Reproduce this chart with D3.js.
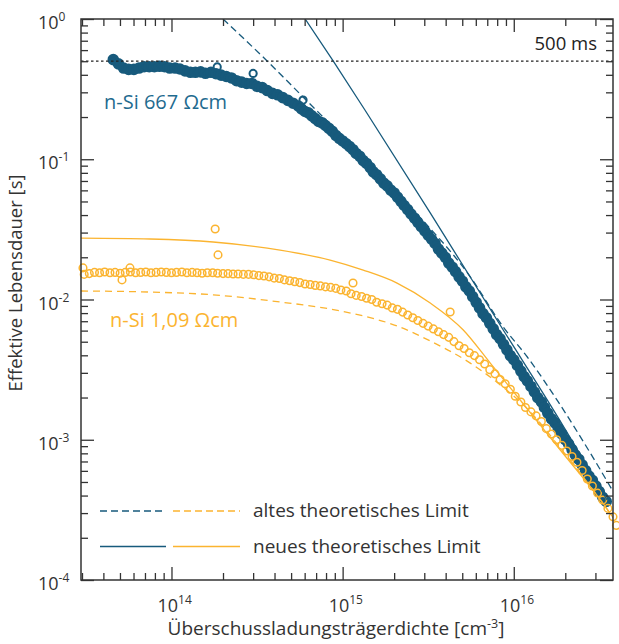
<!DOCTYPE html>
<html><head><meta charset="utf-8">
<script src="https://cdn.jsdelivr.net/npm/d3@7"></script>
<style>
html,body{margin:0;padding:0;background:#fff;}
svg{display:block;}
text{font-family:"Open Sans",sans-serif;}
</style></head><body>
<svg id="chart" width="619" height="644"></svg>
<script>
// ---------- data (excess carrier density in cm^-3, effective lifetime in s) ----------
const blueN = [4.57e13,4.90e13,5.25e13,5.62e13,6.03e13,6.46e13,6.92e13,7.41e13,7.94e13,8.51e13,9.12e13,9.77e13,
  1.05e14,1.12e14,1.20e14,1.29e14,1.38e14,1.48e14,1.58e14,1.70e14,1.82e14,1.95e14,2.09e14,2.24e14,2.40e14,2.57e14,
  2.75e14,2.95e14,3.16e14,3.39e14,3.63e14,3.89e14,4.17e14,4.47e14,4.79e14,5.13e14,5.50e14,
  5.75e14,6.03e14,6.31e14,6.61e14,6.92e14,7.24e14,7.59e14,7.94e14,8.32e14,8.71e14,9.12e14,9.55e14,
  1.00e15,1.05e15,1.10e15,1.15e15,1.20e15,1.26e15,1.32e15,1.38e15,1.45e15,1.51e15,1.58e15,1.66e15,1.74e15,1.82e15,
  1.91e15,2.00e15,2.09e15,2.19e15,2.29e15,2.40e15,2.51e15,2.63e15,2.75e15,2.88e15,3.02e15,3.16e15,3.31e15,3.47e15,
  3.63e15,3.80e15,3.98e15,4.17e15,4.37e15,4.57e15,4.79e15,5.01e15,5.25e15,5.50e15,5.75e15,6.03e15,6.31e15,6.61e15,
  6.92e15,7.24e15,7.59e15,7.94e15,8.32e15,8.71e15,9.12e15,9.55e15,
  1.00e16,1.05e16,1.10e16,1.15e16,1.20e16,1.26e16,1.32e16,1.38e16,1.45e16,1.51e16,1.58e16,1.66e16,1.74e16,1.82e16,
  1.91e16,2.00e16,2.09e16,2.19e16,2.29e16,2.40e16,2.51e16,2.63e16,2.75e16,2.88e16,3.02e16,3.16e16,3.31e16,3.47e16];
const blueTau = [0.513,0.479,0.447,0.437,0.437,0.447,0.457,0.457,0.457,0.460,0.457,0.447,
  0.447,0.440,0.427,0.417,0.417,0.420,0.410,0.417,0.407,0.398,0.389,0.380,0.363,0.355,
  0.347,0.347,0.331,0.324,0.309,0.295,0.288,0.275,0.263,0.251,0.240,
  0.229,0.219,0.214,0.204,0.195,0.186,0.182,0.174,0.166,0.158,0.148,0.141,
  0.135,0.129,0.123,0.117,0.110,0.105,0.0977,0.0933,0.0871,0.0813,0.0776,0.0724,0.0676,0.0646,
  0.0603,0.0575,0.0537,0.0501,0.0468,0.0437,0.0407,0.0380,0.0355,0.0331,0.0309,0.0288,0.0269,0.0251,
  0.0229,0.0214,0.0200,0.0182,0.0170,0.0158,0.0145,0.0135,0.0123,0.0115,0.0105,0.00955,0.00871,0.00794,
  0.00741,0.00676,0.00617,0.00562,0.00525,0.00479,0.00437,0.00398,
  0.00372,0.00339,0.00309,0.00282,0.00263,0.00240,0.00219,0.00200,0.00186,0.00170,0.00155,0.00141,0.00132,0.00120,
  0.00110,0.00100,0.000933,0.000851,0.000776,0.000724,0.000661,0.000603,0.000550,0.000513,0.000468,0.000427,0.000389,0.000363];
// isolated blue measurement points lying off the dense band
const blueOutlierN   = [1.85e14,3.00e14,5.87e14];
const blueOutlierTau = [0.455,0.409,0.264];

const orangeN = [3.09e13,3.31e13,3.55e13,3.80e13,4.07e13,4.37e13,4.68e13,5.01e13,5.37e13,5.75e13,6.17e13,6.61e13,
  7.08e13,7.59e13,8.13e13,8.71e13,9.33e13,1.00e14,1.07e14,1.15e14,1.23e14,1.32e14,1.41e14,1.51e14,1.62e14,1.74e14,
  1.86e14,2.00e14,2.14e14,2.29e14,2.45e14,2.63e14,2.82e14,3.02e14,3.24e14,3.47e14,3.72e14,3.98e14,4.27e14,4.57e14,
  4.90e14,5.25e14,5.62e14,6.03e14,6.46e14,6.92e14,7.41e14,7.94e14,8.51e14,9.12e14,9.77e14,1.05e15,1.12e15,1.20e15,
  1.29e15,1.38e15,1.48e15,1.58e15,1.70e15,1.82e15,1.95e15,2.09e15,2.24e15,2.40e15,2.57e15,2.75e15,2.95e15,3.16e15,
  3.39e15,3.63e15,3.89e15,4.17e15,4.47e15,4.79e15,5.13e15,5.50e15,5.89e15,6.31e15,6.76e15,7.24e15,7.76e15,8.32e15,
  8.91e15,9.55e15,1.02e16,1.10e16,1.17e16,1.26e16,1.35e16,1.45e16,1.55e16,1.66e16,1.78e16,1.91e16,2.04e16,2.19e16,
  2.34e16,2.51e16,2.69e16,2.88e16,3.09e16,3.31e16,3.55e16,3.80e16,3.98e16,
  3.04e13,5.14e13,5.72e13,1.80e14,1.87e14,1.15e15,4.25e15];
const orangeTau = [0.0151,0.0153,0.0156,0.0155,0.0157,0.0155,0.0156,0.0154,0.0156,0.0157,0.0155,0.0156,
  0.0157,0.0155,0.0156,0.0157,0.0156,0.0155,0.0156,0.0157,0.0155,0.0156,0.0155,0.0154,0.0155,0.0155,
  0.0154,0.0153,0.0153,0.0152,0.0152,0.0151,0.0151,0.0150,0.0148,0.0147,0.0145,0.0142,0.0141,0.0138,
  0.0136,0.0134,0.0132,0.0129,0.0128,0.0126,0.0125,0.0123,0.0122,0.0120,0.0117,0.0115,0.0110,0.0107,
  0.0105,0.0102,0.0100,0.00955,0.00933,0.00912,0.00871,0.00851,0.00813,0.00776,0.00741,0.00708,0.00676,0.00646,
  0.00617,0.00589,0.00562,0.00537,0.00501,0.00468,0.00447,0.00417,0.00398,0.00372,0.00347,0.00316,0.00295,0.00269,
  0.00251,0.00229,0.00204,0.00186,0.00170,0.00158,0.00148,0.00135,0.00120,0.00110,0.00100,0.000912,0.000832,0.000759,
  0.000692,0.000603,0.000525,0.000468,0.000417,0.000372,0.000324,0.000282,0.000245,
  0.0168,0.0138,0.0168,0.0318,0.0208,0.0131,0.00814];

// theoretical limits
const oldLimitBlueN   = [2.00e14,3.62e14,5.87e14,1.15e15,2.48e15,5.57e15,8.68e15,1.20e16,1.82e16,2.80e16,3.82e16];
const oldLimitBlueTau = [1.0,0.502,0.278,0.122,0.0459,0.0145,0.00637,0.00389,0.00186,0.000804,0.000424];
const newLimitBlueN   = [6.04e14,8.80e14,1.35e15,3.25e15,8.68e15,1.75e16,3.51e16];
const newLimitBlueTau = [1.0,0.502,0.2245,0.0414,0.00606,0.00155,0.000372];
const oldLimitOrangeN   = [2.96e13,7.49e13,1.75e14,4.31e14,8.45e14,1.32e15,2.08e15,3.25e15,5.57e15,8.34e15,1.25e16,1.87e16,3.21e16,3.82e16];
const oldLimitOrangeTau = [0.0115,0.0113,0.0108,0.00960,0.00856,0.00763,0.00648,0.00506,0.00352,0.00246,0.00158,0.000873,0.000372,0.000277];
const newLimitOrangeN   = [2.96e13,7.49e13,1.75e14,4.31e14,8.45e14,1.32e15,2.08e15,3.25e15,5.07e15,7.29e15,1.09e16,1.87e16,3.21e16,3.82e16];
const newLimitOrangeTau = [0.0274,0.0270,0.0257,0.0225,0.0191,0.0162,0.0131,0.00944,0.00606,0.00352,0.00192,0.000845,0.000372,0.000277];

const refLifetime = 0.5;
const refLabel = "500 ms";
const xTickExps = [14,15,16];
const yTickExps = [0,-1,-2,-3,-4];
const seriesLabels = ["n-Si 667 Ωcm","n-Si 1,09 Ωcm"];
const legendLabels = ["altes theoretisches Limit","neues theoretisches Limit"];

// ---------- drawing ----------
const BLUE = "#175a7c", BLUE_TXT = "#1f6b8f", ORANGE = "#fbb430", INK = "#333";
const M = {left:81,right:613,top:19,bottom:580};
const svg = d3.select("#chart");
const x = d3.scaleLog().domain([2.96e13,3.8e16]).range([M.left,M.right]);
const y = d3.scaleLog().domain([1e-4,1]).range([M.bottom,M.top]);

svg.append("defs").append("clipPath").attr("id","plotclip")
  .append("rect").attr("x",M.left).attr("y",M.top).attr("width",M.right-M.left).attr("height",M.bottom-M.top);

const zip = (a,b) => a.map((v,i)=>[v,b[i]]);

svg.append("g").selectAll("circle").data(zip(blueN, blueTau)).join("circle")
  .attr("cx",d=>x(d[0])).attr("cy",d=>y(d[1])).attr("r",4.2)
  .attr("fill",BLUE).attr("stroke",BLUE).attr("stroke-width",3.2);
svg.append("g").selectAll("circle").data(zip(blueOutlierN, blueOutlierTau)).join("circle")
  .attr("cx",d=>x(d[0])).attr("cy",d=>y(d[1])).attr("r",3.6)
  .attr("fill","none").attr("stroke",BLUE).attr("stroke-width",2);

svg.append("g").selectAll("circle").data(zip(orangeN, orangeTau)).join("circle")
  .attr("cx",d=>x(d[0])).attr("cy",d=>y(d[1])).attr("r",3.8)
  .attr("fill","none").attr("stroke",ORANGE).attr("stroke-width",1.5);

const line = d3.line().x(d=>x(d[0])).y(d=>y(d[1])).curve(d3.curveMonotoneX);
const lg = svg.append("g").attr("clip-path","url(#plotclip)");
function drawLine(n,t,color,dash){
  lg.append("path").datum(zip(n,t)).attr("d",line)
    .attr("fill","none").attr("stroke",color).attr("stroke-width",1.3)
    .attr("stroke-dasharray",dash||null);
}
drawLine(oldLimitOrangeN,oldLimitOrangeTau,ORANGE,"7,5");
drawLine(newLimitOrangeN,newLimitOrangeTau,ORANGE,null);
drawLine(oldLimitBlueN,oldLimitBlueTau,BLUE,"7,4");
drawLine(newLimitBlueN,newLimitBlueTau,BLUE,null);

svg.append("line").attr("x1",M.left).attr("x2",M.right)
  .attr("y1",y(refLifetime)).attr("y2",y(refLifetime))
  .attr("stroke","#222").attr("stroke-width",1.3).attr("stroke-dasharray","2.5,2.5");
svg.append("text").attr("x",597).attr("y",50).attr("text-anchor","end")
  .attr("font-size",18.5).attr("fill","#222").text(refLabel);

const isMajor = v => Math.abs(Math.log10(v)-Math.round(Math.log10(v)))<1e-9;
const xt = x.ticks(), yt = y.ticks();
const xMaj = xt.filter(isMajor), xMin = xt.filter(v=>!isMajor(v));
const yMaj = yt.filter(isMajor), yMin = yt.filter(v=>!isMajor(v));
function styleAxis(g){
  g.select(".domain").remove();
  g.selectAll(".tick line").attr("stroke",INK).attr("stroke-width",1.3);
  g.selectAll(".tick text").remove();
}
const axes = [
  [d3.axisBottom, x, xMin, xMaj, `translate(0,${M.bottom})`],
  [d3.axisTop, x, xMin, xMaj, `translate(0,${M.top})`],
  [d3.axisLeft, y, yMin, yMaj, `translate(${M.left},0)`],
  [d3.axisRight, y, yMin, yMaj, `translate(${M.right},0)`]
];
axes.forEach(([ax,sc,mn,mj,tr])=>{
  svg.append("g").attr("transform",tr).call(ax(sc).tickValues(mn).tickSize(-7).tickFormat("")).call(styleAxis);
  svg.append("g").attr("transform",tr).call(ax(sc).tickValues(mj).tickSize(-13).tickFormat("")).call(styleAxis);
});
svg.append("rect").attr("x",M.left).attr("y",M.top).attr("width",M.right-M.left).attr("height",M.bottom-M.top)
  .attr("fill","none").attr("stroke",INK).attr("stroke-width",1.5);

xTickExps.forEach(e=>{
  const t = svg.append("text").attr("x",x(Math.pow(10,e))-14).attr("y",612).attr("fill",INK).attr("font-size",18);
  t.append("tspan").text("10");
  t.append("tspan").attr("dy",-8).attr("font-size",12).text(e);
});
yTickExps.forEach(e=>{
  const t = svg.append("text").attr("x",38).attr("y",y(Math.pow(10,e))+10).attr("fill",INK).attr("font-size",18);
  t.append("tspan").text("10");
  t.append("tspan").attr("dy",-8).attr("font-size",12).text(e<0?"-"+(-e):e);
});

const xl = svg.append("text").attr("x",336).attr("y",635).attr("text-anchor","middle").attr("fill",INK).attr("font-size",19);
xl.append("tspan").text("Überschussladungsträgerdichte [cm");
xl.append("tspan").attr("dy",-7).attr("font-size",12.5).text("-3");
xl.append("tspan").attr("dy",7).text("]");
svg.append("text").attr("transform","translate(22,283) rotate(-90)").attr("text-anchor","middle")
  .attr("fill",INK).attr("font-size",18.5).text("Effektive Lebensdauer [s]");

svg.append("text").attr("x",104).attr("y",109).attr("fill",BLUE_TXT).attr("font-size",20).text(seriesLabels[0]);
svg.append("text").attr("x",110).attr("y",327).attr("fill",ORANGE).attr("font-size",20).text(seriesLabels[1]);

const legRows = [{y:511,dash:"7,4",label:legendLabels[0]},{y:546.5,dash:null,label:legendLabels[1]}];
legRows.forEach(r=>{
  svg.append("line").attr("x1",100).attr("x2",166).attr("y1",r.y).attr("y2",r.y)
    .attr("stroke",BLUE).attr("stroke-width",1.5).attr("stroke-dasharray",r.dash);
  svg.append("line").attr("x1",173).attr("x2",240).attr("y1",r.y).attr("y2",r.y)
    .attr("stroke",ORANGE).attr("stroke-width",1.5).attr("stroke-dasharray",r.dash);
  svg.append("text").attr("x",253).attr("y",r.y+6).attr("fill",INK).attr("font-size",19).text(r.label);
});
</script>
</body></html>
